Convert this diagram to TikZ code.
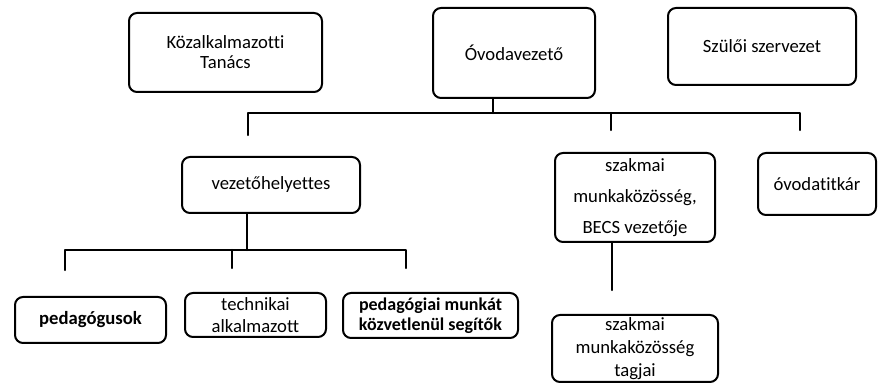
\documentclass[tikz,border=0pt]{standalone}
\usepackage{fontspec}
\setmainfont[Ligatures=NoCommon]{Carlito}
\usetikzlibrary{calc}

\begin{document}
\begin{tikzpicture}[x=0.75pt,y=-0.75pt,line join=round,line cap=round,
    doboz/.style={draw,line width=1.5pt,rounded corners=6pt,align=center,inner sep=1pt,font=\fontsize{14}{17}\selectfont},
    sor/.style={font=\fontsize{14}{#1}\selectfont},
    vonal/.style={line width=1.7pt}]%Szervezeti ábra
    \useasboundingbox (0,0) rectangle (878,384);
    % felső sor
    \node[doboz,sor=15pt,minimum width=144.75pt,minimum height=59.25pt](kt) at (225.5,52.5){Közalkalmazotti\\Tanács};
    \node[doboz,minimum width=121.5pt,minimum height=67.5pt](ov) at (514,53){Óvodavezető};
    \node[doboz,minimum width=141pt,minimum height=57.75pt](sz) at (762,46.5){Szülői szervezet};
    % középső sor
    \node[doboz,minimum width=133.5pt,minimum height=42pt](vh) at (271,185){vezetőhelyettes};
    \node[doboz,sor=23pt,minimum width=120pt,minimum height=66.75pt](mk) at (635,197.5){szakmai\\munkaközösség,\\BECS vezetője};
    \node[doboz,minimum width=88.5pt,minimum height=46.5pt](ot) at (817,184){óvodatitkár};
    % alsó sor
    \node[doboz,minimum width=113.25pt,minimum height=34.5pt,font=\fontsize{14}{17}\selectfont\bfseries](pg) at (90.5,320){pedagógusok};
    \node[doboz,sor=16.5pt,minimum width=105.75pt,minimum height=33pt](ta) at (255.5,315){technikai\\alkalmazott};
    \node[doboz,minimum width=131.25pt,minimum height=33.75pt,inner sep=0pt,font=\fontsize{13.5}{15}\selectfont\bfseries](pm) at (430.5,315.5){pedagógiai munkát\\közvetlenül segítők};
    \node[doboz,sor=17pt,minimum width=124.5pt,minimum height=50.25pt](tg) at (635,348.5){szakmai\\munkaközösség\\tagjai};
    % vonalak az óvodavezetőtől
    \path (493,113)coordinate(b1)(248,135)coordinate(e1)(611,130)coordinate(e2)(800,130)coordinate(e3);
    \draw[vonal](ov.south -| b1)--(b1);
    \draw[vonal](e1)|-(b1)-|(e3);
    \draw[vonal](b1 -| e2)--(e2);
    % vonalak a vezetőhelyettestől
    \path (247,250)coordinate(b2)(65,270)coordinate(f1)(232,268)coordinate(f2)(406,268)coordinate(f3);
    \draw[vonal](vh.south -| b2)--(b2);
    \draw[vonal](f1)|-(b2)-|(f3);
    \draw[vonal](b2 -| f2)--(f2);
    % munkaközösség
    \coordinate (g1) at (612,290);
    \draw[vonal](mk.south -| g1)--(g1);
\end{tikzpicture}
\end{document}
